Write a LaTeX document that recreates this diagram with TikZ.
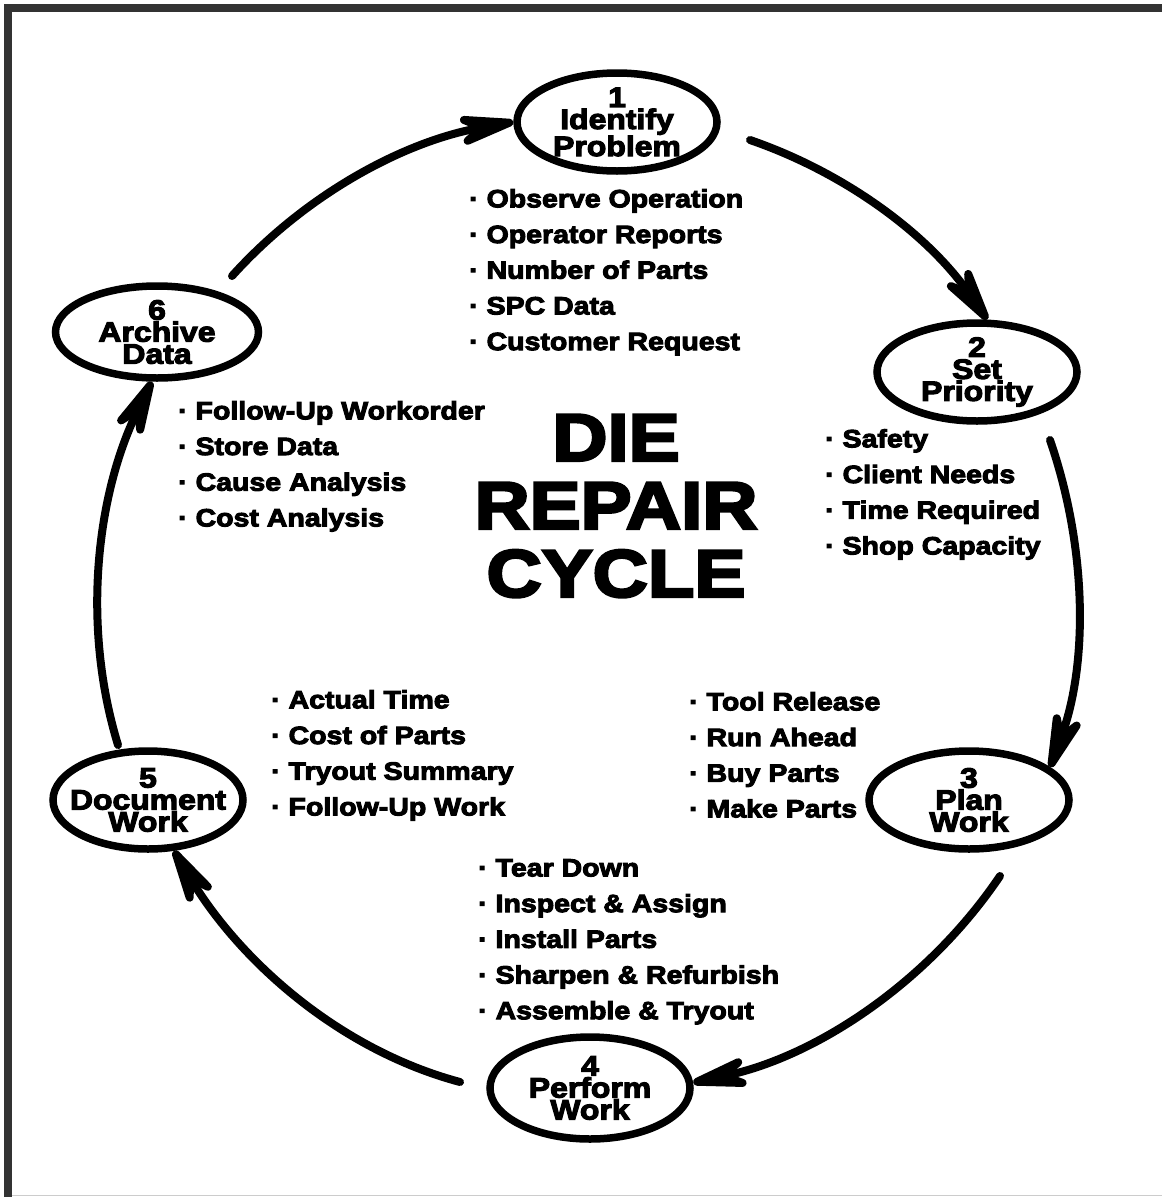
\documentclass[tikz,border=0pt]{standalone}
\usepackage{fontspec}
\newfontfamily\diefont{Liberation Sans Bold}[FakeStretch=1.14,FakeBold=4]
\usetikzlibrary{shapes.geometric, arrows.meta}

\begin{document}
\begin{tikzpicture}[x=1pt, y=1pt,
	stage/.style = {draw, ellipse, line width=7.5pt, minimum width=200pt, minimum height=98pt,
		inner xsep=-45pt, inner ysep=-20pt, align=center,
		font=\diefont\fontsize{28}{22}\selectfont},
	repair arrow/.style = {line width=8pt, line cap=round, looseness=0.88,
		-{Stealth[length=84pt, width=40pt, inset=32pt, round]}},
	items/.style = {anchor=north west, inner sep=0pt, align=left,
		font=\diefont\fontsize{25}{35.7}\selectfont},
	title/.style = {align=center, inner sep=0pt, font=\diefont\fontsize{67}{68}\selectfont}
]
\useasboundingbox (0,0) rectangle (1162,-1197);
% frame
\fill[black!80] (4,-4) rectangle (1162,-12);
\fill[black!80] (4,-12) rectangle (12,-1197);
\draw[black!20, line width=1.5pt] (12,-1195.5) -- (1162,-1195.5);

\node[stage] (identify) at (617,-122) {1\\Identify\\Problem};
\node[stage] (priority) at (977,-372) {2\\Set\\Priority};
\node[stage] (plan) at (969,-800) {3\\Plan\\Work};
\node[stage, minimum height=102pt] (perform) at (590,-1088) {4\\Perform\\Work};
\node[stage, minimum width=190pt] (document) at (148,-800) {5\\Document\\Work};
\node[stage, minimum width=203pt, minimum height=92pt] (archive) at (157,-332) {6\\Archive\\Data};

\node[title] (name) at (616,-506) {DIE\\REPAIR\\CYCLE};

\node[items] (observe) at (469,-189) {· Observe Operation\\· Operator Reports\\· Number of Parts\\· SPC Data\\· Customer Request};
\node[items] (ranking) at (825,-429) {· Safety\\· Client Needs\\· Time Required\\· Shop Capacity};
\node[items] (release) at (689,-692) {· Tool Release\\· Run Ahead\\· Buy Parts\\· Make Parts};
\node[items] (teardown) at (478,-859) {· Tear Down\\· Inspect \& Assign\\· Install Parts\\· Sharpen \& Refurbish\\· Assemble \& Tryout};
\node[items] (actual) at (271,-690) {· Actual Time\\· Cost of Parts\\· Tryout Summary\\· Follow-Up Work};
\node[items] (store) at (178,-401) {· Follow-Up Workorder\\· Store Data\\· Cause Analysis\\· Cost Analysis};

\coordinate (tail1) at (750,-140);
\coordinate (tail2) at (1050,-440);
\coordinate (tail3) at (1000,-876);
\coordinate (tail4) at (460,-1082);
\coordinate (tail5) at (118,-745);
\coordinate (tail6) at (232,-276);

\draw[repair arrow] (tail1) to[out=-19, in=125] (priority.79);
\draw[repair arrow] (tail2) to[out=-71, in=70] (plan.22);
\draw[repair arrow] (tail3) to[out=-124, in=12] (perform.3);
\draw[repair arrow] (tail4) to[out=165, in=-59] (document.297);
\draw[repair arrow] (tail5) to[out=107, in=-116] (archive.264);
\draw[repair arrow] (tail6) to[out=48, in=190] (identify.180);
\end{tikzpicture}
\end{document}
